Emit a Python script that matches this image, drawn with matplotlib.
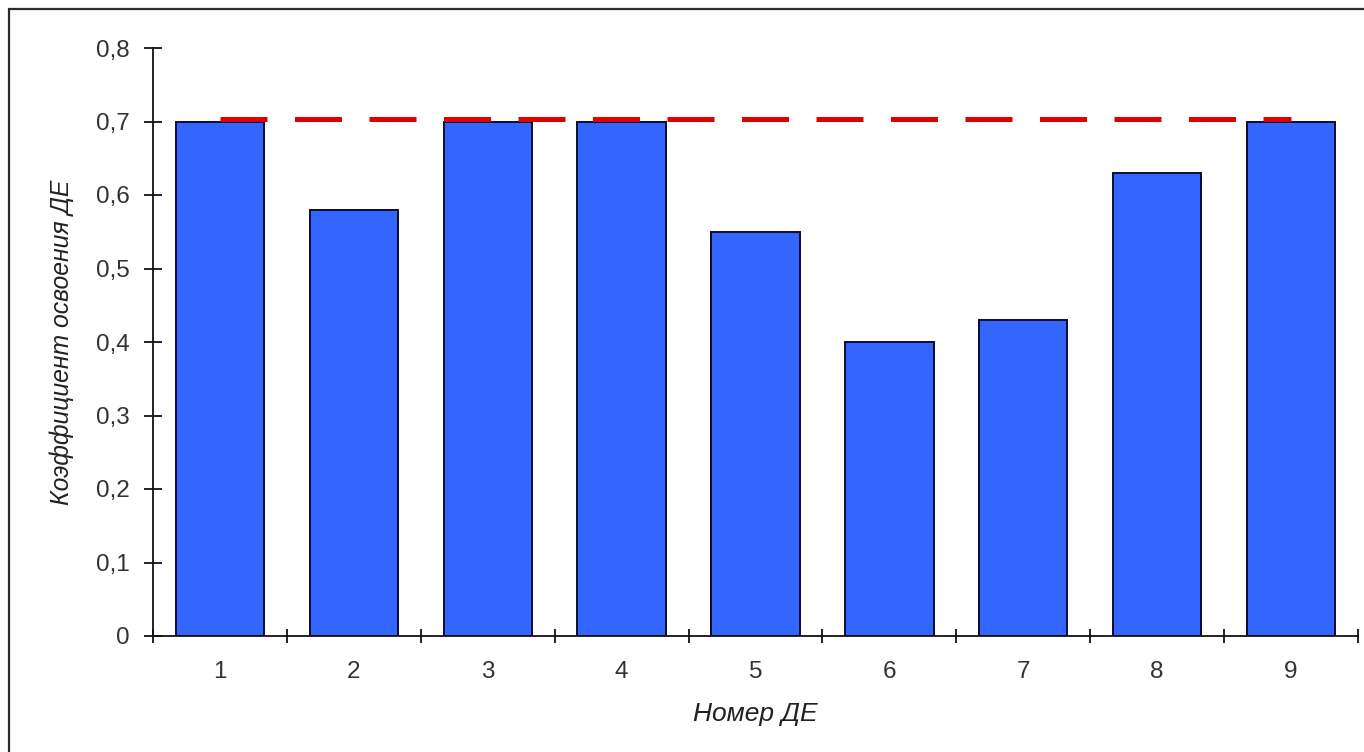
import numpy as np
import matplotlib
matplotlib.use('Agg')
import matplotlib.pyplot as plt
from matplotlib.patches import Rectangle
from matplotlib.ticker import FuncFormatter

# Chart data
categories = ['1', '2', '3', '4', '5', '6', '7', '8', '9']
values = [0.70, 0.58, 0.70, 0.70, 0.55, 0.40, 0.43, 0.63, 0.70]
norm_level = 0.703
yticks = [0, 0.1, 0.2, 0.3, 0.4, 0.5, 0.6, 0.7, 0.8]

plt.rcParams['font.family'] = ['Liberation Sans', 'DejaVu Sans']

fig = plt.figure(figsize=(13.64, 7.52), dpi=100)
ax = fig.add_axes([153/1364, 1-636/752, (1358-153)/1364, (636-48)/752])

# outer chart frame (only left/top visible in picture)
fig.patches.append(Rectangle((9/1364, -0.1), 1.2, 1.1-9/752, transform=fig.transFigure,
                             fill=False, edgecolor='#2b2b2b', linewidth=1.6, zorder=0))

x = np.arange(1, len(categories)+1)
ax.bar(x, values, width=0.66, color='#3366FF', edgecolor='#0b0b30', linewidth=1.4, zorder=2)

# norm line across bar centers
ax.plot([x[0], x[-1]], [norm_level, norm_level], color='#E00000', linewidth=3.6,
        dashes=(9.4, 5.5), solid_capstyle='butt', dash_capstyle='butt', zorder=3)

ax.set_xlim(0.5, len(categories)+0.5)
ax.set_ylim(0, 0.8)

ax.set_yticks(yticks)
ax.yaxis.set_major_formatter(FuncFormatter(lambda v, p: ('%g' % round(v, 2)).replace('.', ',')))
ax.set_xticks(x)
ax.set_xticklabels(categories)
ax.set_xticks(np.arange(0.5, len(categories)+1), minor=True)

ax.tick_params(axis='y', direction='inout', length=13, width=1.3, labelsize=17.5,
               pad=10, colors='#111111', labelcolor='#333333')
ax.tick_params(axis='x', which='major', length=0, labelsize=17.5, pad=18, labelcolor='#333333')
ax.tick_params(axis='x', which='minor', direction='inout', length=10, width=1.3, colors='#111111')

for s in ['top', 'right']:
    ax.spines[s].set_visible(False)
for s in ['left', 'bottom']:
    ax.spines[s].set_linewidth(1.3)
    ax.spines[s].set_color('#111111')

ax.set_ylabel('Коэффициент освоения ДЕ', fontsize=17.8, style='italic', color='#222222', va='center')
ax.yaxis.set_label_coords(-0.0755, 0.5)
ax.set_xlabel('Номер ДЕ', fontsize=19, style='italic', color='#222222', va='center')
ax.xaxis.set_label_coords(0.5, -0.133)

fig.savefig('out.png', dpi=100)
